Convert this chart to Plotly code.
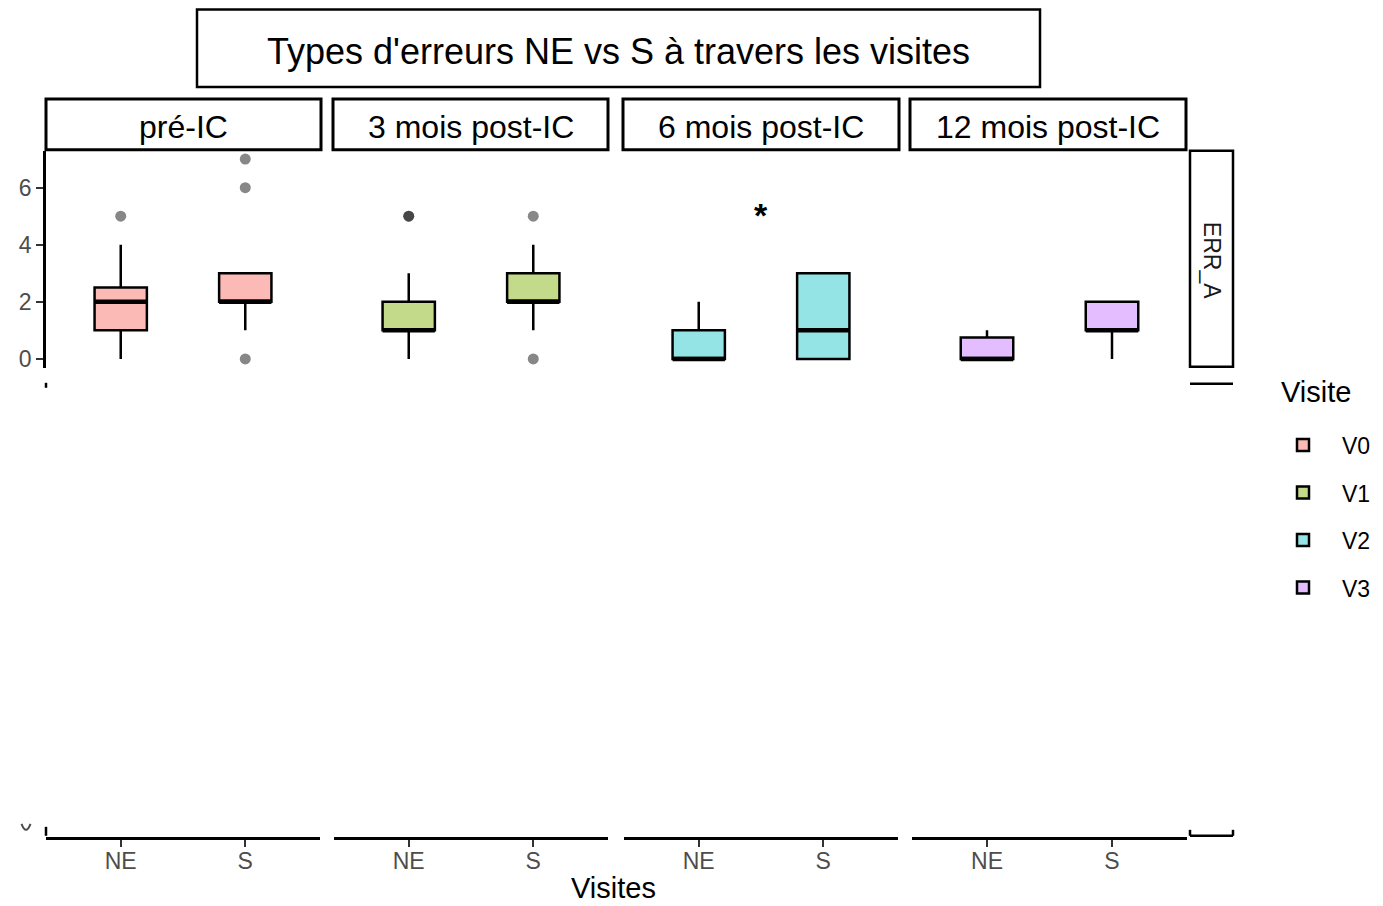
import plotly.graph_objects as go

# ---------------- data ----------------
categories = ["NE", "S"]
visits = ["V0", "V1", "V2", "V3"]
panel_labels = ["pré-IC", "3 mois post-IC", "6 mois post-IC", "12 mois post-IC"]
row_label = "ERR_A"
fill_colors = ["rgba(248,118,109,0.5)", "rgba(124,174,0,0.46)",
               "rgba(0,191,196,0.42)", "rgba(199,124,255,0.5)"]

q1_vals = [[1, 2], [1, 2], [0, 0], [0, 1]]
median_vals = [[2, 2], [1, 2], [0, 1], [0, 1]]
q3_vals = [[2.5, 3], [2, 3], [1, 3], [0.75, 2]]
lower_vals = [[0, 1], [0, 1], [0, 0], [0, 0]]
upper_vals = [[4, 3], [3, 4], [2, 3], [1, 2]]

outliers_ne = [[5], [5, 5], [], []]
outliers_s = [[0, 6, 7], [5, 0], [], []]

sig_panel = 2
sig_label = "*"
sig_y = 5.05

yticks = [0, 2, 4, 6]

# ---------------- layout helpers ----------------
W, H = 1383, 906
def px(x):
    return x / W
def py(y):
    return 1 - (y + 1.5) / H

panel_px = [(46, 320), (334, 608), (624, 898), (912, 1187)]
strip_px = [(46, 321), (333, 608), (623, 899), (910, 1186)]
ydom = [py(368), py(150)]
xaxis_pos = py(840)

fig = go.Figure()

for i in range(4):
    xa = "x" if i == 0 else f"x{i+1}"
    # box body
    fig.add_trace(go.Box(
        x=categories, q1=q1_vals[i], median=median_vals[i], q3=q3_vals[i],
        lowerfence=lower_vals[i], upperfence=upper_vals[i],
        boxpoints=False, width=0.42, whiskerwidth=0,
        fillcolor=fill_colors[i], line=dict(color="black", width=2.5),
        name=visits[i], legendgroup=visits[i], showlegend=True,
        xaxis=xa, yaxis="y", hoverinfo="skip"))
    # thicker median line
    fig.add_trace(go.Box(
        x=categories, q1=median_vals[i], median=median_vals[i], q3=median_vals[i],
        lowerfence=median_vals[i], upperfence=median_vals[i],
        boxpoints=False, width=0.42, whiskerwidth=0,
        fillcolor="rgba(0,0,0,0)", line=dict(color="black", width=4.5),
        showlegend=False, legendgroup=visits[i],
        xaxis=xa, yaxis="y", hoverinfo="skip"))
    # outliers
    ox = ["NE"] * len(outliers_ne[i]) + ["S"] * len(outliers_s[i])
    oy = outliers_ne[i] + outliers_s[i]
    if oy:
        fig.add_trace(go.Scatter(
            x=ox, y=oy, mode="markers",
            marker=dict(size=11, color="rgba(0,0,0,0.47)", line=dict(width=0)),
            showlegend=False, xaxis=xa, yaxis="y", hoverinfo="skip",
            cliponaxis=False))

font_main = "Liberation Sans, Arial, sans-serif"
axis_font = dict(family=font_main, size=23, color="#4d4d4d")
layout_axes = {}
for i in range(4):
    key = "xaxis" if i == 0 else f"xaxis{i+1}"
    layout_axes[key] = dict(
        domain=[px(panel_px[i][0]), px(panel_px[i][1])],
        anchor="free", position=xaxis_pos,
        type="category", categoryorder="array", categoryarray=categories,
        range=[-0.6, 1.6], showline=True, linecolor="black", linewidth=2.5,
        ticks="outside", ticklen=7, tickwidth=2, tickcolor="#333333",
        ticklabelstandoff=-5,
        tickfont=axis_font, showgrid=False, zeroline=False, fixedrange=True)

layout_axes["yaxis"] = dict(
    domain=ydom, anchor="x", range=[-0.314, 7.29],
    tickvals=yticks, ticktext=[str(v) for v in yticks],
    showline=True, linecolor="black", linewidth=2.5,
    ticks="outside", ticklen=7, tickwidth=2, tickcolor="#333333",
    tickfont=axis_font, showgrid=False, zeroline=False, fixedrange=True)

shapes = []
# title box
shapes.append(dict(type="rect", xref="paper", yref="paper",
                   x0=px(197), x1=px(1040), y0=py(86), y1=py(8),
                   line=dict(color="black", width=2.5), fillcolor="white"))
# strips
for (a, b) in strip_px:
    shapes.append(dict(type="rect", xref="paper", yref="paper",
                       x0=px(a), x1=px(b), y0=py(149), y1=py(98),
                       line=dict(color="black", width=3), fillcolor="white"))
# right strip
shapes.append(dict(type="rect", xref="paper", yref="paper",
                   x0=px(1190), x1=px(1233), y0=py(367), y1=py(150),
                   line=dict(color="black", width=2.5), fillcolor="white"))
# remnants of a clipped second row
line_k = dict(color="black", width=2.5)
shapes.append(dict(type="line", xref="paper", yref="paper",
                   x0=px(1190), x1=px(1233), y0=py(384), y1=py(384), line=line_k))
shapes.append(dict(type="line", xref="paper", yref="paper",
                   x0=px(1190), x1=px(1233), y0=py(838), y1=py(838), line=line_k))
shapes.append(dict(type="line", xref="paper", yref="paper",
                   x0=px(1190), x1=px(1190), y0=py(838), y1=py(832), line=line_k))
shapes.append(dict(type="line", xref="paper", yref="paper",
                   x0=px(1233), x1=px(1233), y0=py(838), y1=py(832), line=line_k))
shapes.append(dict(type="line", xref="paper", yref="paper",
                   x0=px(46), x1=px(46), y0=py(388), y1=py(383), line=line_k))
shapes.append(dict(type="line", xref="paper", yref="paper",
                   x0=px(46), x1=px(46), y0=py(838), y1=py(829), line=line_k))
# clipped bottom of a tick label
shapes.append(dict(type="path", xref="paper", yref="paper",
                   path=f"M {px(21.5)} {py(826)} Q {px(26)} {py(838)} {px(30.5)} {py(826)}",
                   line=dict(color="#4d4d4d", width=2)))

annotations = []
annotations.append(dict(text="Types d'erreurs NE vs S à travers les visites",
                        xref="paper", yref="paper", x=px(618), y=py(50),
                        showarrow=False, font=dict(family=font_main, size=36, color="black"),
                        xanchor="center", yanchor="middle"))
for i, (a, b) in enumerate(strip_px):
    annotations.append(dict(text=panel_labels[i], xref="paper", yref="paper",
                            x=px((a + b) / 2), y=py(126), showarrow=False,
                            font=dict(family=font_main, size=32, color="black"),
                            xanchor="center", yanchor="middle"))
annotations.append(dict(text=row_label, xref="paper", yref="paper",
                        x=px(1211.5), y=py(260), textangle=90, showarrow=False,
                        font=dict(family=font_main, size=23, color="#1a1a1a"),
                        xanchor="center", yanchor="middle"))
annotations.append(dict(text="Visites", xref="paper", yref="paper",
                        x=px(613), y=py(890), showarrow=False,
                        font=dict(family=font_main, size=29, color="black"),
                        xanchor="center", yanchor="middle"))
annotations.append(dict(text="<b>" + sig_label + "</b>", xref=f"x{sig_panel+1}", yref="y",
                        x=0.5, y=sig_y, showarrow=False,
                        font=dict(family=font_main, size=34, color="black"),
                        xanchor="center", yanchor="middle"))
annotations.append(dict(text="Visite", xref="paper", yref="paper",
                        x=px(1279), y=py(392), showarrow=False,
                        font=dict(family=font_main, size=29, color="black"),
                        xanchor="left", yanchor="middle"))

fig.update_layout(
    width=W, height=H, autosize=False,
    margin=dict(l=0, r=0, t=0, b=0),
    paper_bgcolor="white", plot_bgcolor="white",
    font=dict(family=font_main),
    shapes=shapes, annotations=annotations,
    legend=dict(
        font=dict(family=font_main, size=23, color="black"),
        x=px(1264), y=py(424), xanchor="left", yanchor="top",
        itemwidth=68, tracegroupgap=14.6, traceorder="grouped",
        bgcolor="rgba(0,0,0,0)",
        itemclick=False, itemdoubleclick=False),
    boxmode="overlay",
    **layout_axes)

fig.write_html("out.html", config={"displayModeBar": False},
               post_script="document.body.style.margin='0px';document.body.style.overflow='hidden';")
